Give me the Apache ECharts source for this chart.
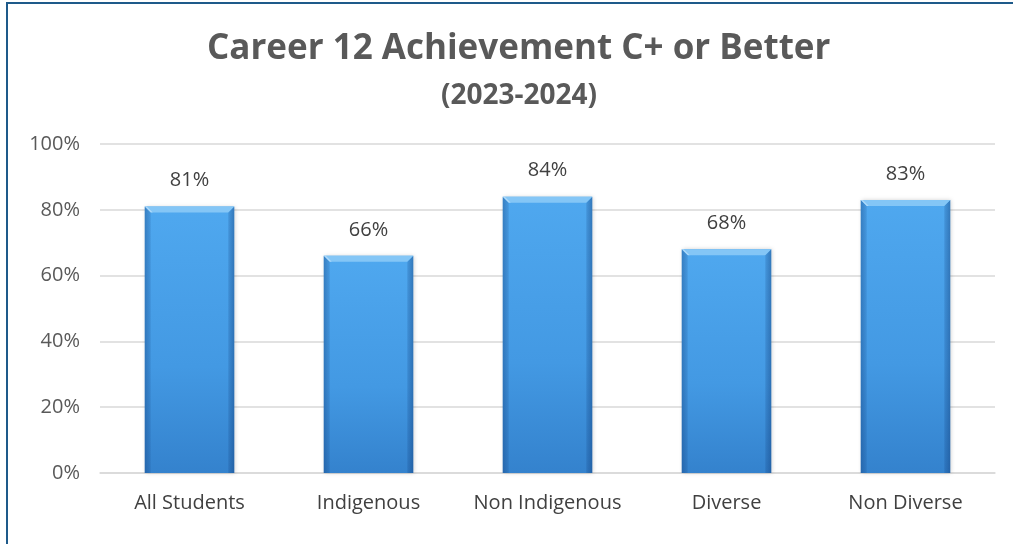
<!DOCTYPE html>
<html>
<head>
<meta charset="utf-8">
<script src="https://cdn.jsdelivr.net/npm/echarts@6/dist/echarts.min.js"></script>
<style>
  html, body { margin: 0; padding: 0; background: #fff; }
  #chart { width: 1013px; height: 544px; }
</style>
</head>
<body>
<div id="chart"></div>
<script>
// Share of students achieving C+ or better in Career 12, by group
const categories = ['All Students', 'Indigenous', 'Non Indigenous', 'Diverse', 'Non Diverse'];
const achievement = [81, 66, 84, 68, 83];
const yTicks = [0, 20, 40, 60, 80, 100];

const chart = echarts.init(document.getElementById('chart'));

// body of each column: lighter at the top, deeper blue near the base
const barFill = new echarts.graphic.LinearGradient(0, 0, 0, 1, [
  { offset: 0, color: '#4fa8ef' },
  { offset: 0.6, color: '#4399e3' },
  { offset: 1, color: '#3482cd' }
]);

const BEVEL = 6;

// bevelled edges drawn over each column, positioned by the axes
function renderBevel(params, api) {
  const top = api.coord([api.value(0), api.value(1)]);
  const base = api.coord([api.value(0), 0]);
  const w = api.size([1, 0])[0] * 0.5;
  const x0 = top[0] - w / 2, x1 = top[0] + w / 2;
  const y0 = top[1], y1 = base[1];
  const b = Math.min(BEVEL, (y1 - y0) / 2);
  return {
    type: 'group',
    children: [
      {
        type: 'polygon',
        shape: { points: [[x0, y0], [x0 + b, y0 + b], [x0 + b, y1], [x0, y1]] },
        style: {
          fill: new echarts.graphic.LinearGradient(0, 0, 1, 0, [
            { offset: 0, color: 'rgba(10,50,110,0.35)' },
            { offset: 1, color: 'rgba(10,50,110,0.12)' }
          ])
        }
      },
      {
        type: 'polygon',
        shape: { points: [[x1, y0], [x1 - b, y0 + b], [x1 - b, y1], [x1, y1]] },
        style: {
          fill: new echarts.graphic.LinearGradient(0, 0, 1, 0, [
            { offset: 0, color: 'rgba(10,50,110,0.15)' },
            { offset: 1, color: 'rgba(10,50,110,0.40)' }
          ])
        }
      },
      {
        type: 'polygon',
        shape: { points: [[x0, y0], [x1, y0], [x1 - b, y0 + b], [x0 + b, y0 + b]] },
        style: { fill: '#84c6f6' }
      },
      {
        type: 'polygon',
        shape: { points: [[x0, y0], [x0 + b, y0 + b], [x0 + b + 2, y0 + b], [x0 + 2, y0]] },
        style: { fill: 'rgba(255,255,255,0.35)' }
      }
    ]
  };
}

chart.setOption({
  backgroundColor: '#ffffff',
  animation: false,
  textStyle: { fontFamily: 'Open Sans' },
  title: [
    {
      text: 'Career 12 Achievement C+ or Better',
      left: 202,
      top: 27,
      textStyle: { fontFamily: 'Open Sans', fontSize: 35, fontWeight: 'bold', color: '#595959' }
    },
    {
      text: '(2023-2024)',
      left: 436,
      top: 77,
      textStyle: { fontFamily: 'Open Sans', fontSize: 28, fontWeight: 'bold', color: '#595959' }
    }
  ],
  graphic: [
    {
      type: 'rect',
      shape: { x: 7, y: 3, width: 1100, height: 700 },
      style: { fill: 'none', stroke: '#1e5a8a', lineWidth: 2 },
      z: 100
    }
  ],
  grid: { left: 100, right: 18, top: 144, bottom: 71 },
  xAxis: {
    type: 'category',
    data: categories,
    axisTick: { show: false },
    axisLine: { lineStyle: { color: '#d9d9d9', width: 1.5 } },
    axisLabel: { interval: 0, color: '#404040', fontSize: 20, margin: 20, fontFamily: 'Open Sans' }
  },
  yAxis: {
    type: 'value',
    min: yTicks[0],
    max: yTicks[yTicks.length - 1],
    interval: 20,
    axisLine: { show: false },
    axisTick: { show: false },
    splitLine: { lineStyle: { color: '#d9d9d9', width: 1.5 } },
    axisLabel: { color: '#595959', fontSize: 20, margin: 20, fontFamily: 'Open Sans', formatter: v => v + '%' }
  },
  series: [
    {
      type: 'bar',
      data: achievement,
      barWidth: '50%',
      itemStyle: {
        color: barFill,
        shadowColor: 'rgba(0,0,0,0.18)',
        shadowBlur: 4,
        shadowOffsetX: 1
      },
      label: {
        show: true,
        position: 'top',
        distance: 16,
        color: '#404040',
        fontSize: 20,
        fontFamily: 'Open Sans',
        formatter: p => p.value + '%'
      }
    },
    {
      type: 'custom',
      renderItem: renderBevel,
      data: achievement.map((v, i) => [i, v]),
      z: 3,
      silent: true
    }
  ]
});
</script>
</body>
</html>
